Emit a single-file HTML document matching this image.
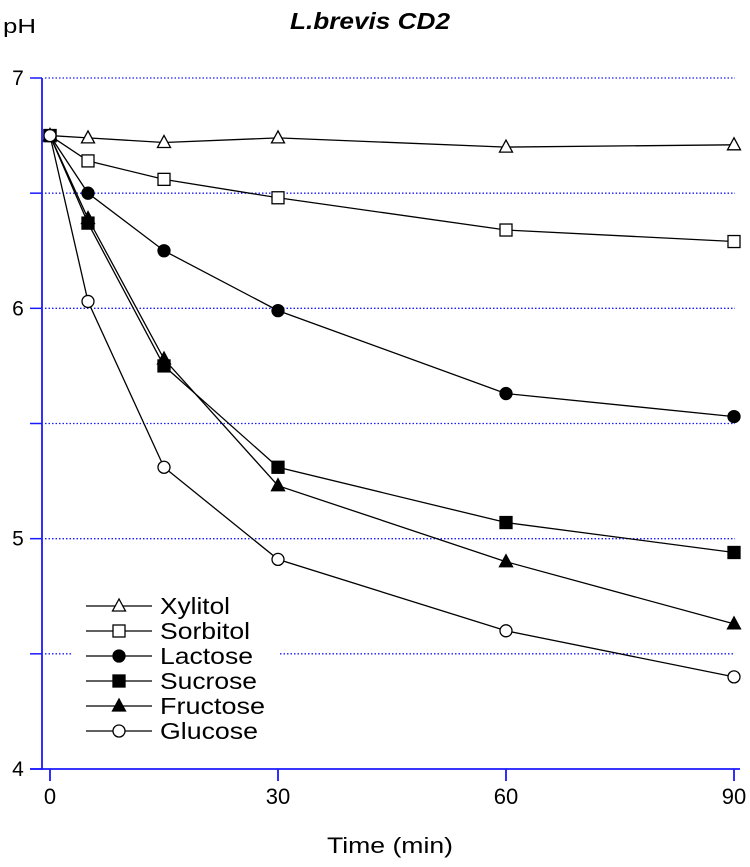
<!DOCTYPE html>
<html><head><meta charset="utf-8"><style>
body{margin:0;background:#fff;}
svg text{font-family:"Liberation Sans",Arial,sans-serif;}
</style></head><body>
<svg id="chart" width="750" height="862" viewBox="0 0 750 862" xmlns="http://www.w3.org/2000/svg">
<text x="290" y="29" font-size="23" font-weight="bold" font-style="italic" textLength="160" lengthAdjust="spacingAndGlyphs">L.brevis CD2</text>
<text x="3" y="33" font-size="20" textLength="33" lengthAdjust="spacingAndGlyphs">pH</text>
<text x="327" y="853" font-size="22" textLength="126" lengthAdjust="spacingAndGlyphs">Time (min)</text>
<g id="grid"></g>
<g id="axes"></g>
<g id="series"></g>
<g id="legend"></g>
</svg>
<script>
const times = [0, 5, 15, 30, 60, 90];
const seriesNames = ["Xylitol", "Sorbitol", "Lactose", "Sucrose", "Fructose", "Glucose"];
const xylitol  = [6.75, 6.74, 6.72, 6.74, 6.70, 6.71];
const sorbitol = [6.75, 6.64, 6.56, 6.48, 6.34, 6.29];
const lactose  = [6.75, 6.50, 6.25, 5.99, 5.63, 5.53];
const sucrose  = [6.75, 6.37, 5.75, 5.31, 5.07, 4.94];
const fructose = [6.75, 6.39, 5.78, 5.23, 4.90, 4.63];
const glucose  = [6.75, 6.03, 5.31, 4.91, 4.60, 4.40];
const xTicks = [0, 30, 60, 90];
const yTicks = [4, 5, 6, 7];
const yGrid = [4.5, 5, 5.5, 6, 6.5, 7];
const legendWidths = [70, 90, 93, 97, 105, 98];

const NS = "http://www.w3.org/2000/svg";
const X = t => 50 + t * (684 / 90);
const Y = v => 769 - (v - 4) * (691 / 3);
function mk(tag, attrs, parent) {
  const e = document.createElementNS(NS, tag);
  for (const k in attrs) e.setAttribute(k, attrs[k]);
  parent.appendChild(e);
  return e;
}
const blue = "#1a1aff";
const grid = document.getElementById("grid");
yGrid.forEach(v => {
  const segs = v === 4.5 ? [[45, 72], [280, 735]] : [[45, 735]];
  segs.forEach(s => {
    const l = mk("line", {x1: s[0], x2: s[1], y1: Y(v), y2: Y(v), stroke: blue, "stroke-width": 1.3, "stroke-dasharray": "1.5 2"}, grid);
    
    
  });
  const tk = mk("line", {x1: 30, x2: 42, y1: Y(v), y2: Y(v), stroke: blue, "stroke-width": 1.5}, grid);
  
  
});
const axes = document.getElementById("axes");
const ya = mk("line", {x1: 42, x2: 42, y1: 78, y2: 770, stroke: blue, "stroke-width": 1.8}, axes);


const xa = mk("line", {x1: 30, x2: 740, y1: 769, y2: 769, stroke: blue, "stroke-width": 1.8}, axes);


yTicks.forEach(v => {
  const t = mk("text", {x: 18, y: Y(v) + 7, "text-anchor": "middle", "font-size": 21}, axes);
  t.textContent = v;
  
  
});
const tk4 = mk("line", {x1: 30, x2: 42, y1: Y(4), y2: Y(4), stroke: blue, "stroke-width": 1.5}, axes);


xTicks.forEach(t => {
  const l = mk("line", {x1: X(t), x2: X(t), y1: 769, y2: 781, stroke: blue, "stroke-width": 1.8}, axes);
  
  
  const tx = mk("text", {x: X(t), y: 804, "text-anchor": "middle", "font-size": 22}, axes);
  tx.textContent = t;
  
  
});

function marker(kind, cx, cy, parent) {
  let e;
  if (kind === "tri-open" || kind === "tri-fill") {
    e = mk("polygon", {points: `${cx},${cy-7} ${cx-6.5},${cy+5} ${cx+6.5},${cy+5}`, fill: kind === "tri-fill" ? "#000" : "#fff", stroke: "#000", "stroke-width": 1.3}, parent);
  } else if (kind === "sq-open" || kind === "sq-fill") {
    e = mk("rect", {x: cx-6, y: cy-6, width: 12, height: 12, fill: kind === "sq-fill" ? "#000" : "#fff", stroke: "#000", "stroke-width": 1.3}, parent);
  } else {
    e = mk("circle", {cx: cx, cy: cy, r: 6, fill: kind === "circ-fill" ? "#000" : "#fff", stroke: "#000", "stroke-width": 1.3}, parent);
  }
  return e;
}
const allSeries = [xylitol, sorbitol, lactose, sucrose, fructose, glucose];
const kinds = ["tri-open", "sq-open", "circ-fill", "sq-fill", "tri-fill", "circ-open"];
const sg = document.getElementById("series");
allSeries.forEach((vals, i) => {
  const g = mk("g", {}, sg);
  
  
  const pts = vals.map((v, j) => X(times[j]) + "," + Y(v)).join(" ");
  const pl = mk("polyline", {points: pts, fill: "none", stroke: "#000", "stroke-width": 1.3}, g);
  
  
  vals.forEach((v, j) => {
    const m = marker(kinds[i], X(times[j]), Y(v), g);
    
    
  });
});
const lg = document.getElementById("legend");
seriesNames.forEach((n, i) => {
  const y = 606 + i * 25;
  const g = mk("g", {}, lg);
  
  
  mk("line", {x1: 86, x2: 152, y1: y, y2: y, stroke: "#000", "stroke-width": 1.3}, g);
  marker(kinds[i], 119, y, g);
  const t = mk("text", {x: 160, y: y + 8, "font-size": 23, textLength: legendWidths[i], lengthAdjust: "spacingAndGlyphs"}, g);
  t.textContent = n;
});
</script>
</body></html>
